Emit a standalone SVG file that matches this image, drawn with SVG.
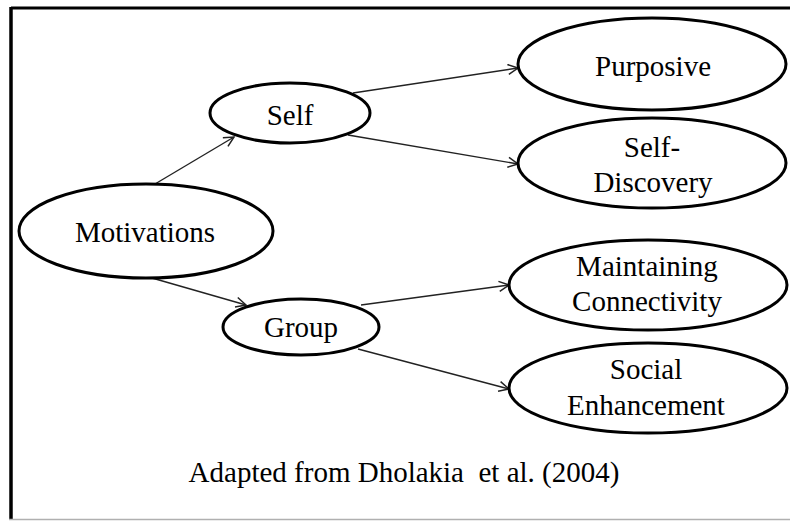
<svg xmlns="http://www.w3.org/2000/svg" width="790" height="521" viewBox="0 0 790 521" font-family="'Liberation Serif', 'Times New Roman', serif">
  <style>
    text { font-family: "Liberation Serif", "Times New Roman", serif; font-size: 29px; fill: #000000; text-anchor: middle; }
    ellipse { fill: #ffffff; stroke: #000000; stroke-width: 3; }
    .edge { stroke: #222222; stroke-width: 1.4; fill: none; marker-end: url(#open-arrow); }
  </style>
  <defs>
    <marker id="open-arrow" viewBox="0 0 12 12" refX="11" refY="6" markerWidth="12" markerHeight="12" markerUnits="userSpaceOnUse" orient="auto">
      <path d="M1,1 L11,6 L1,11" fill="none" stroke="#222222" stroke-width="1.5"/>
    </marker>
  </defs>

  <rect width="790" height="521" fill="#ffffff"/>

  <!-- frame: heavy left and top rules, light bottom rule -->
  <g id="frame">
    <line x1="11" y1="8" x2="790" y2="8" stroke="#000000" stroke-width="3"/>
    <line x1="11" y1="7" x2="11" y2="519" stroke="#000000" stroke-width="3.5"/>
    <line x1="9" y1="519.5" x2="790" y2="519.5" stroke="#b0b0b0" stroke-width="1.5"/>
  </g>

  <g id="connectors">
    <line class="edge" x1="155" y1="184" x2="234" y2="137"/>
    <line class="edge" x1="152" y1="278" x2="246" y2="305"/>
    <line class="edge" x1="353" y1="93" x2="518" y2="68"/>
    <line class="edge" x1="348" y1="135" x2="518" y2="164"/>
    <line class="edge" x1="361" y1="305" x2="509" y2="285"/>
    <line class="edge" x1="358" y1="349" x2="509" y2="389"/>
  </g>

  <g id="motivations">
    <ellipse cx="146" cy="231" rx="127" ry="47"/>
    <text x="145" y="242">Motivations</text>
  </g>

  <g id="self">
    <ellipse cx="290" cy="113" rx="80" ry="30"/>
    <text x="290" y="125">Self</text>
  </g>

  <g id="group">
    <ellipse cx="301" cy="327" rx="78" ry="28"/>
    <text x="301" y="337">Group</text>
  </g>

  <g id="purposive">
    <ellipse cx="652" cy="64" rx="134" ry="46"/>
    <text x="653" y="76">Purposive</text>
  </g>

  <g id="self-discovery">
    <ellipse cx="652" cy="163" rx="134" ry="45"/>
    <text x="652" y="157">Self-</text>
    <text x="653" y="192">Discovery</text>
  </g>

  <g id="maintaining-connectivity">
    <ellipse cx="648" cy="285" rx="139" ry="45"/>
    <text x="647" y="276">Maintaining</text>
    <text x="647" y="311">Connectivity</text>
  </g>

  <g id="social-enhancement">
    <ellipse cx="648" cy="388" rx="139" ry="45"/>
    <text x="646" y="379">Social</text>
    <text x="646" y="415">Enhancement</text>
  </g>

  <text x="404" y="482" xml:space="preserve">Adapted from Dholakia  et al. (2004)</text>
</svg>
